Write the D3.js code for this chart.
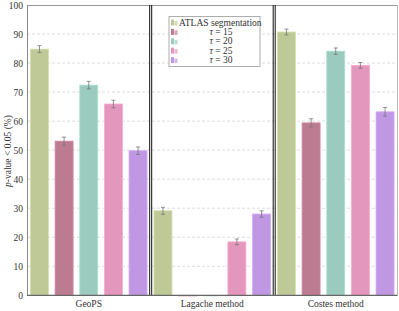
<!DOCTYPE html>
<html>
<head>
<meta charset="utf-8">
<script src="https://cdn.jsdelivr.net/npm/d3@7"></script>
<style>
  body { margin: 0; background: #fff; }
  text { font-family: "Liberation Serif", "DejaVu Serif", serif; fill: #333; }
</style>
</head>
<body>
<svg id="chart" width="399" height="311"></svg>
<script>
// data
var methods = ["GeoPS", "Lagache method", "Costes method"]
var seriesNames = ["ATLAS segmentation", "\u03c4 = 15", "\u03c4 = 20", "\u03c4 = 25", "\u03c4 = 30"]
var atlas = [84.8, 29.1, 90.7]
var tau15 = [53.1, 0, 59.4]
var tau20 = [72.4, 0, 84.1]
var tau25 = [65.9, 18.4, 79.2]
var tau30 = [49.8, 28.0, 63.2]
var errAtlas = [1.2, 1.2, 1.0]
var errTau15 = [1.4, 0, 1.4]
var errTau20 = [1.3, 0, 1.1]
var errTau25 = [1.3, 1.0, 1.0]
var errTau30 = [1.3, 1.1, 1.5]
var yTicks = [0, 10, 20, 30, 40, 50, 60, 70, 80, 90, 100]
var colors = ["#bfc997", "#bd7b92", "#9bcbbe", "#e497bd", "#c097e3"]

var values = [atlas, tau15, tau20, tau25, tau30]
var errs = [errAtlas, errTau15, errTau20, errTau25, errTau30]

var svg = d3.select("#chart")
var mLeft = 27, mRight = 397.5, mTop = 5, mBottom = 295.3

var x0 = d3.scaleBand().domain(methods).range([mLeft, mRight]).padding(0)
var x1 = d3.scaleBand().domain(d3.range(5)).range([0, x0.bandwidth()]).paddingInner(0.27).paddingOuter(0.14)
var y = d3.scaleLinear().domain([0, 100]).range([mBottom, mTop])

// grid
svg.append("g").selectAll("line").data(yTicks.filter(function(d){ return d > 0 && d < 100 }))
  .enter().append("line")
  .attr("x1", mLeft).attr("x2", mRight)
  .attr("y1", function(d){ return y(d) }).attr("y2", function(d){ return y(d) })
  .attr("stroke", "#d4d4d4").attr("stroke-width", 0.8).attr("stroke-dasharray", "3,2")

// frame
svg.append("line").attr("x1", mLeft).attr("x2", mRight).attr("y1", mTop + 0.5).attr("y2", mTop + 0.5).attr("stroke", "#999")
svg.append("line").attr("x1", mRight).attr("x2", mRight).attr("y1", mTop).attr("y2", mBottom).attr("stroke", "#bbb")
svg.append("line").attr("x1", mLeft + 0.5).attr("x2", mLeft + 0.5).attr("y1", mTop).attr("y2", mBottom).attr("stroke", "#888")

// bars
var groups = svg.append("g").selectAll("g").data(methods).enter().append("g")
  .attr("transform", function(d){ return "translate(" + x0(d) + ",0)" })

groups.each(function(m, gi) {
  var g = d3.select(this)
  var rows = d3.range(5).map(function(s){ return { s: s, v: values[s][gi], e: errs[s][gi] } })
  g.selectAll("rect").data(rows).enter().append("rect")
    .attr("x", function(d){ return x1(d.s) })
    .attr("width", x1.bandwidth())
    .attr("y", function(d){ return y(d.v) })
    .attr("height", function(d){ return Math.max(0.6, mBottom - y(d.v)) })
    .attr("fill", function(d){ return colors[d.s] })
    .attr("stroke", function(d){ return d3.color(colors[d.s]).brighter(0.3) })
    .attr("stroke-width", 0.8)
  var eb = g.selectAll("g.err").data(rows.filter(function(d){ return d.e > 0 })).enter().append("g")
    .attr("stroke", "#777").attr("stroke-width", 0.8)
  eb.append("line")
    .attr("x1", function(d){ return x1(d.s) + x1.bandwidth() / 2 })
    .attr("x2", function(d){ return x1(d.s) + x1.bandwidth() / 2 })
    .attr("y1", function(d){ return y(d.v + d.e) }).attr("y2", function(d){ return y(d.v - d.e) })
  eb.append("line")
    .attr("x1", function(d){ return x1(d.s) + x1.bandwidth() / 2 - 2 })
    .attr("x2", function(d){ return x1(d.s) + x1.bandwidth() / 2 + 2 })
    .attr("y1", function(d){ return y(d.v + d.e) }).attr("y2", function(d){ return y(d.v + d.e) })
  eb.append("line")
    .attr("x1", function(d){ return x1(d.s) + x1.bandwidth() / 2 - 2 })
    .attr("x2", function(d){ return x1(d.s) + x1.bandwidth() / 2 + 2 })
    .attr("y1", function(d){ return y(d.v - d.e) }).attr("y2", function(d){ return y(d.v - d.e) })
})

// group separators
methods.slice(1).forEach(function(m) {
  var xs = x0(m)
  svg.append("line").attr("x1", xs - 0.8).attr("x2", xs - 0.8).attr("y1", mTop).attr("y2", mBottom)
    .attr("stroke", "#111").attr("stroke-width", 1)
  svg.append("line").attr("x1", xs + 1.2).attr("x2", xs + 1.2).attr("y1", mTop).attr("y2", mBottom)
    .attr("stroke", "#111").attr("stroke-width", 1)
})

// bottom axis line
svg.append("line").attr("x1", mLeft).attr("x2", mRight).attr("y1", mBottom).attr("y2", mBottom).attr("stroke", "#666").attr("stroke-width", 1.2)

// y axis
var yAxis = d3.axisLeft(y).tickValues(yTicks).tickSize(0).tickPadding(4)
var ya = svg.append("g").attr("transform", "translate(" + mLeft + ",0)").call(yAxis)
ya.select(".domain").remove()
ya.selectAll("text").style("font-size", "9.5px").attr("fill", "#444")
  .style("font-family", "Liberation Serif, serif")

// x axis labels
var xAxis = d3.axisBottom(x0).tickSize(0).tickPadding(5)
var xa = svg.append("g").attr("transform", "translate(0," + mBottom + ")").call(xAxis)
xa.select(".domain").remove()
xa.selectAll("text").style("font-size", "9.5px").attr("fill", "#444")
  .style("font-family", "Liberation Serif, serif")

// y label
svg.append("text").attr("transform", "translate(11,151) rotate(-90)")
  .attr("text-anchor", "middle").style("font-size", "9.5px").attr("fill", "#444")
  .html("<tspan font-style='italic'>p</tspan>-value &lt; 0.05 (%)")

// legend
var lg = svg.append("g").attr("transform", "translate(169,16.5)")
lg.append("rect").attr("width", 91).attr("height", 50).attr("fill", "#fff").attr("stroke", "#999").attr("stroke-width", 0.8)
var items = lg.selectAll("g.item").data(seriesNames).enter().append("g")
  .attr("transform", function(d, i){ return "translate(0," + (6 + i * 9.4) + ")" })
items.append("rect").attr("x", 2).attr("y", -3).attr("width", 3).attr("height", 6)
  .attr("fill", function(d, i){ return colors[i] })
items.append("rect").attr("x", 5.5).attr("y", -1.5).attr("width", 3).attr("height", 4.5)
  .attr("fill", function(d, i){ return colors[i] }).attr("opacity", 0.7)
items.append("text")
  .attr("x", function(d, i){ return i === 0 ? 10 : 52 })
  .attr("text-anchor", function(d, i){ return i === 0 ? "start" : "middle" })
  .attr("dy", "0.33em").style("font-size", "9.5px").attr("fill", "#222")
  .html(function(d, i){ return i === 0 ? d : "<tspan font-style='italic'>\u03c4</tspan>" + d.slice(1) })
</script>
</body>
</html>
